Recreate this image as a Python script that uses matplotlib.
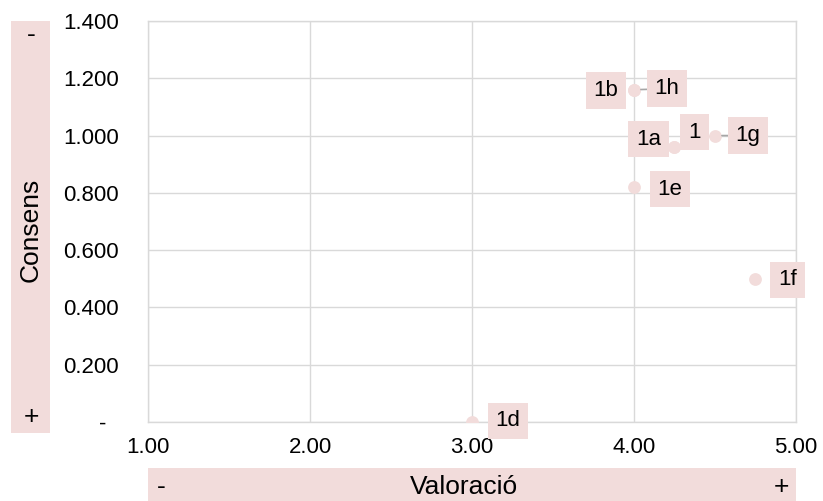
import matplotlib.pyplot as plt
from matplotlib.ticker import FixedLocator

plt.rcParams["font.family"] = ["Liberation Sans", "DejaVu Sans"]

# punts del gràfic
labels = ["1", "1a", "1b", "1d", "1e", "1f", "1g", "1h"]
valoracio = [4.25, 4.25, 4.00, 3.00, 4.00, 4.75, 4.50, 4.00]
consens = [0.96, 0.96, 1.16, 0.00, 0.82, 0.50, 1.00, 1.16]

# desplaçament de l'etiqueta (px) respecte al punt
offsets = {
    "1": (20, 15), "1a": (-26, 8), "1b": (-28, -1), "1d": (36, 1),
    "1e": (36, -2), "1f": (32, -1), "1g": (33, 0), "1h": (33, 1),
}
leaders = ["1g", "1h"]

x_ticks = [1.0, 2.0, 3.0, 4.0, 5.0]
y_ticks = [0.0, 0.2, 0.4, 0.6, 0.8, 1.0, 1.2, 1.4]

pink = "#f2dcdb"
grid = "#d9d9d9"
fs = 16
fs_title = 19

fig = plt.figure(figsize=(8.23, 5.01), dpi=100)
ax = fig.add_axes([148 / 823, 79 / 501, 648 / 823, 401 / 501])

ax.scatter(valoracio, consens, s=85, color=pink, zorder=3, linewidths=0)

px = 72 / 100
for lab, x, y in zip(labels, valoracio, consens):
    dx, dy = offsets[lab]
    arrow = None
    if lab in leaders:
        arrow = dict(arrowstyle="-", color="#a6a6a6", lw=1.2, shrinkA=0, shrinkB=5)
    ax.annotate(lab, (x, y), xytext=(dx * px, dy * px), textcoords="offset points",
                ha="center", va="center", fontsize=fs, zorder=4,
                bbox=dict(boxstyle="square,pad=0.35", fc=pink, ec="none"),
                arrowprops=arrow)

ax.set_xlim(1, 5)
ax.set_ylim(0, 1.4)
ax.xaxis.set_major_locator(FixedLocator(x_ticks))
ax.yaxis.set_major_locator(FixedLocator(y_ticks))
ax.set_xticklabels([f"{v:.2f}" for v in x_ticks])
ax.set_yticklabels(["-  "] + [f"{v:.3f}" for v in y_ticks[1:]])
ax.tick_params(length=0, labelsize=fs, colors="black")
ax.tick_params(axis="x", pad=11)
ax.tick_params(axis="y", pad=21)
ax.grid(True, color=grid, lw=1)
ax.set_axisbelow(True)
for s in ax.spines.values():
    s.set_color(grid)
    s.set_linewidth(1)

# banda de l'eix Y
fig.patches.append(plt.Rectangle((11 / 823, 68 / 501), 39 / 823, 412 / 501,
                                 transform=fig.transFigure, fc=pink, ec="none"))
fig.text(31 / 823, 271 / 501, "Consens", rotation=90, ha="center", va="center", fontsize=fs_title)
fig.text(31 / 823, 466 / 501, "-", ha="center", va="center", fontsize=fs_title)
fig.text(31 / 823, 84 / 501, "+", ha="center", va="center", fontsize=fs_title)

# banda de l'eix X
fig.patches.append(plt.Rectangle((148 / 823, 0), 648 / 823, 33 / 501,
                                 transform=fig.transFigure, fc=pink, ec="none"))
fig.text(464 / 823, 14 / 501, "Valoració", ha="center", va="center", fontsize=fs_title)
fig.text(161 / 823, 14 / 501, "-", ha="center", va="center", fontsize=fs_title)
fig.text(781 / 823, 14 / 501, "+", ha="center", va="center", fontsize=fs_title)

fig.savefig("out.png", dpi=100)
